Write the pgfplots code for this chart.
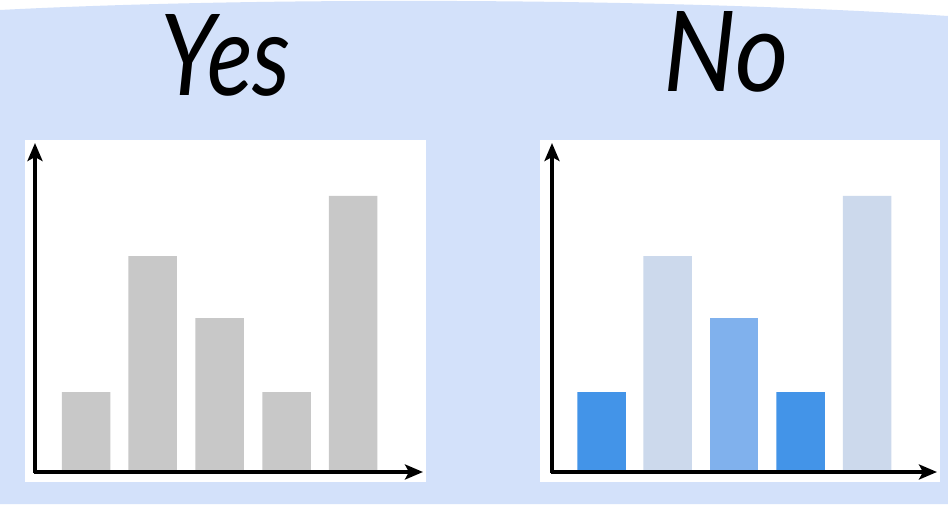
\documentclass[border=0pt]{standalone}
\usepackage{pgfplots}
\pgfplotsset{compat=1.18}
\usepackage{fontspec}
\setmainfont{Lato}
\usetikzlibrary{arrows.meta}
\definecolor{bg}{HTML}{D3E1FA}
\definecolor{barGrey}{HTML}{C8C8C8}
\definecolor{barBlue}{HTML}{4394E8}
\definecolor{barMid}{HTML}{80B1ED}
\definecolor{barPale}{HTML}{CCD9EC}
\tikzset{axarrow/.style={line width=1.7pt, -{Stealth[length=9pt,width=7.5pt,inset=2pt]}}}
\pgfplotsset{
  panel/.style={
    x=0.5pt, y=0.5pt,
    hide axis,
    xmin=0, ymin=0, ymax=329,
    enlargelimits=false,
    clip=false,
    anchor=origin,
  },
  bars/.style={ybar, bar width=48.5, bar shift=0pt, draw=none, fill=#1},
}
\begin{document}
\begin{tikzpicture}[x=0.5pt,y=0.5pt]
\useasboundingbox (0,0) rectangle (948,504);
\fill[white] (0,0) rectangle (948,504);
\fill[bg] (0,0) -- (0,494) .. controls (250,507) and (650,507) .. (948,488) -- (948,0) -- cycle;
\fill[white] (25,22) rectangle (426,364);
\fill[white] (540,22) rectangle (940,364);
\node at (226,449) {\resizebox{65pt}{40.5pt}{\itshape Yes}};
\node at (726,452) {\resizebox{62.5pt}{40pt}{\itshape No}};
\begin{axis}[panel, at={(17.5pt,16pt)}, xmax=388]
\addplot[bars=barGrey] coordinates {(51,80) (117.5,216) (184.5,154) (251.5,80) (318,276)};
\draw[axarrow] (axis cs:-1,0) -- (axis cs:388,0);
\draw[axarrow] (axis cs:0,-1) -- (axis cs:0,329);
\end{axis}
\begin{axis}[panel, at={(276pt,16pt)}, xmax=385]
\addplot[bars=barBlue] coordinates {(49.5,80) (248.5,80)};
\addplot[bars=barPale] coordinates {(115.5,216) (315,276)};
\addplot[bars=barMid] coordinates {(182,154)};
\draw[axarrow] (axis cs:-1,0) -- (axis cs:385,0);
\draw[axarrow] (axis cs:0,-1) -- (axis cs:0,329);
\end{axis}
\end{tikzpicture}
\end{document}
